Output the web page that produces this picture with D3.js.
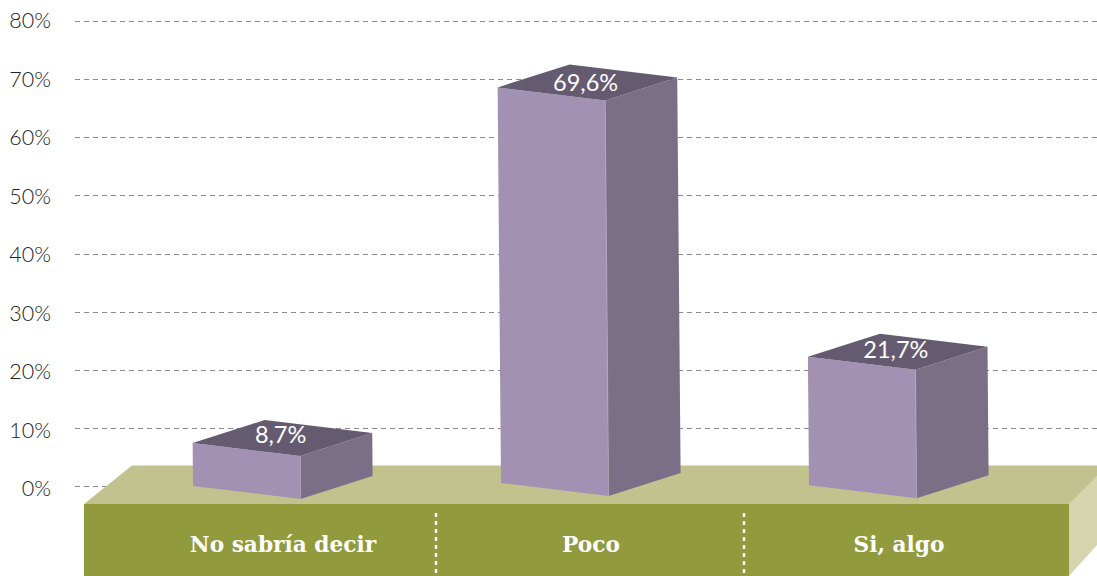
<!DOCTYPE html>
<html><head><meta charset="utf-8">
<script src="https://cdn.jsdelivr.net/npm/d3@7/dist/d3.min.js"></script>
<style>html,body{margin:0;padding:0;background:#fff;overflow:hidden}svg{display:block}</style>
</head><body><div id="chart"></div>
<script>
const categories = ["No sabría decir", "Poco", "Si, algo"];
const values = [8.7, 69.6, 21.7];
const valueLabels = ["8,7%", "69,6%", "21,7%"];
// Height of each block's front-left edge as it reads against the axis
const drawnHeights = [7.35, 68.6, 22.2];
const axisTicks = [0, 10, 20, 30, 40, 50, 60, 70, 80];

const W = 1097, H = 576;
const svg = d3.select("#chart").append("svg").attr("width", W).attr("height", H);
const y = d3.scaleLinear().domain([0, 80]).range([485.8, 21.2]);
const yLabel = d3.scaleLinear().domain([0, 80]).range([488, 20]);
const x = d3.scaleBand().domain(categories).range([128, 1052]);

// grid lines
const grid = svg.append("g").attr("transform", "translate(74.5,0)")
  .call(d3.axisLeft(y).tickValues(axisTicks).tickFormat("").tickSize(-1030));
grid.select(".domain").remove();
grid.selectAll("line").attr("stroke", "#8a8a8a").attr("stroke-width", 1).attr("stroke-dasharray", "5.5,3.5")
  .attr("shape-rendering", "crispEdges");

// tick labels
const labelAxis = svg.append("g").attr("transform", "translate(51,0)")
  .call(d3.axisLeft(yLabel).tickValues(axisTicks).tickFormat(d => d + "%").tickSize(0).tickPadding(0));
labelAxis.select(".domain").remove();
labelAxis.selectAll("text").attr("font-family", "Lato").attr("font-weight", 300).attr("font-size", 21.5)
  .attr("fill", "#222").attr("dy", "0.36em");

// platform
const platTop = 465.5, platFront = 504;
const poly = (g, pts, fill) => g.append("polygon").attr("points", pts.map(p => p.join(",")).join(" ")).attr("fill", fill);
const plat = svg.append("g");
poly(plat, [[84, platFront], [132, platTop], [1117, platTop], [1069, platFront]], "#c2c28e");
poly(plat, [[1069, platFront], [1107, platTop], [1107, 534], [1069, 576]], "#d5d4ae");
plat.append("rect").attr("x", 84).attr("y", platFront).attr("width", 985).attr("height", H - platFront).attr("fill", "#919a3c");

// dotted dividers between categories
plat.selectAll("line.div").data(categories.slice(1)).join("line").attr("class", "div")
  .attr("x1", d => x(d)).attr("x2", d => x(d)).attr("y1", 513).attr("y2", H)
  .attr("stroke", "#fff").attr("stroke-width", 2.4).attr("stroke-dasharray", "4,4");

plat.selectAll("text.cat").data(categories).join("text").attr("class", "cat")
  .attr("x", d => x(d) + x.bandwidth() / 2 + 1).attr("y", 552)
  .attr("text-anchor", "middle").attr("font-family", "DejaVu Serif").attr("font-weight", 700)
  .attr("font-size", 21.7).attr("fill", "#fff").text(d => d);

// 3D blocks
const faceW = [107.6, 13], depth = [72, -23];
const add = (a, b) => [a[0] + b[0], a[1] + b[1]];
const bars = svg.append("g").selectAll("g").data(categories).join("g");
bars.each(function (c, i) {
  const g = d3.select(this);
  const h = y(0) - y(drawnHeights[i]);
  const drift = h * 0.0085;               // slight perspective lean
  const rise = h * 0.0085;                // base lifts on tall blocks
  const bl = [x(c) + x.bandwidth() / 2 - 89, y(0) - rise + 0.5];
  const tl = [bl[0] - drift, y(drawnHeights[i])];
  const tf = add(tl, faceW), tb = add(tf, depth), tk = [tl[0] + depth[0], tl[1] + depth[1]];
  const bf = add(bl, faceW), bb = add(bf, depth);
  poly(g, [tl, tf, bf, bl], "#a291b2");
  poly(g, [tf, tb, bb, bf], "#7b6f88");
  poly(g, [tl, tf, tb, tk], "#655b71");
  g.append("line").attr("x1", tf[0]).attr("y1", tf[1]).attr("x2", bf[0]).attr("y2", bf[1])
    .attr("stroke", "#b9aec6").attr("stroke-width", 0.7);
  g.append("text").attr("x", tl[0] + 88).attr("y", tl[1] + h * 0.008)
    .attr("text-anchor", "middle").attr("font-family", "Lato").attr("font-size", 23.5)
    .attr("fill", "#fff").text(valueLabels[i]);
});
</script></body></html>
